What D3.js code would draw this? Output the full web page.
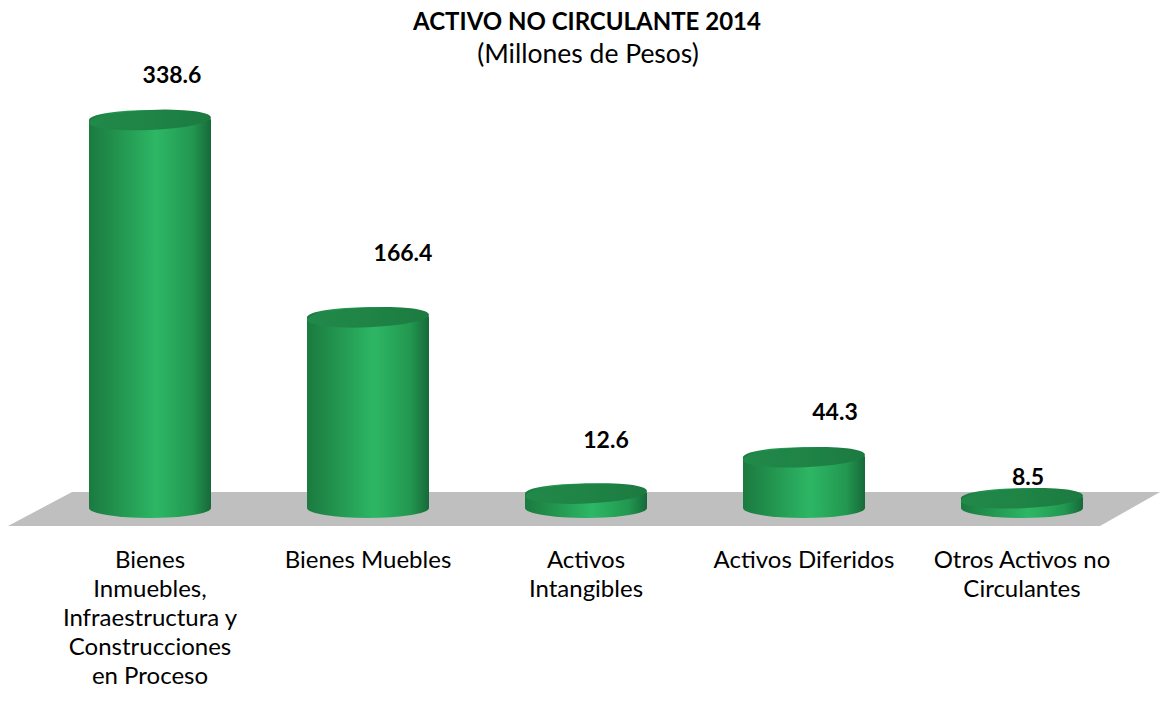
<!DOCTYPE html>
<html>
<head>
<meta charset="utf-8">
<script src="https://cdn.jsdelivr.net/npm/d3@7"></script>
<style>
  body { margin: 0; background: #fff; }
  svg { display: block; font-family: Lato, "Open Sans", sans-serif; }
</style>
</head>
<body>
<svg id="chart"></svg>
<script>
// ----- data -----
const categories = [
    ['Bienes', 'Inmuebles,', 'Infraestructura y', 'Construcciones', 'en Proceso'],
    ['Bienes Muebles'],
    ['Activos', 'Intangibles'],
    ['Activos Diferidos'],
    ['Otros Activos no', 'Circulantes']
];
const values = [338.6, 166.4, 12.6, 44.3, 8.5];
const valueLabels = ['338.6', '166.4', '12.6', '44.3', '8.5'];

// manual nudges for the value labels (Excel placed them by hand)
const labelNudgeX = [22, 35, 20, 31, 6];
const labelNudgeY = [-45, -64, -54, -45, -21];

const width = 1162, height = 702;
const rx = 61, ry = 10;

const svg = d3.select('#chart')
    .attr('width', width)
    .attr('height', height);

const defs = svg.append('defs');

// side gradient of the cylinders
const side = defs.append('linearGradient').attr('id', 'side')
    .attr('x1', 0).attr('x2', 1).attr('y1', 0).attr('y2', 0);
[[0, '#1b7a40'], [0.2, '#21904c'], [0.55, '#2db765'], [0.85, '#22974f'], [1, '#17693a']]
    .forEach(([o, c]) => side.append('stop').attr('offset', o).attr('stop-color', c));

const cap = defs.append('linearGradient').attr('id', 'cap')
    .attr('x1', 0).attr('x2', 1).attr('y1', 0).attr('y2', 0);
[[0, '#21894a'], [0.5, '#1f8446'], [1, '#1c7a40']]
    .forEach(([o, c]) => cap.append('stop').attr('offset', o).attr('stop-color', c));

// ----- scales -----
const x = d3.scalePoint()
    .domain(d3.range(values.length))
    .range([41, 1131])
    .padding(0.5);

const y = d3.scaleLinear()
    .domain([0, 350])
    .range([508, 508 - 350 * 1.146]);

// ----- floor -----
const x0 = x.range()[0], x1 = x.range()[1], base = y(0);
svg.append('path')
    .attr('d', `M ${x0 + 31} ${base - 16} L ${x1 + 29} ${base - 16} L ${x1 - 31} ${base + 18} L ${x0 - 33} ${base + 18} Z`)
    .attr('fill', '#bfbfbf');

// ----- cylinders -----
const bars = svg.append('g').selectAll('g.bar')
    .data(values)
    .join('g')
    .attr('class', 'bar');

bars.append('path')
    .attr('fill', 'url(#side)')
    .attr('d', (d, i) => {
        const cx = x(i), top = y(d);
        return `M ${cx - rx} ${top} L ${cx - rx} ${base}
                A ${rx} ${ry} 0 0 0 ${cx + rx} ${base}
                L ${cx + rx} ${top}
                A ${rx} ${ry} 0 0 0 ${cx - rx} ${top} Z`;
    });

bars.append('ellipse')
    .attr('cx', (d, i) => x(i))
    .attr('cy', d => y(d))
    .attr('rx', rx)
    .attr('ry', ry)
    .attr('transform', (d, i) => `rotate(-2.5 ${x(i)} ${y(d)})`)
    .attr('fill', 'url(#cap)');

// ----- value labels -----
svg.append('g').selectAll('text')
    .data(values)
    .join('text')
    .attr('x', (d, i) => x(i) + labelNudgeX[i])
    .attr('y', (d, i) => y(d) + labelNudgeY[i])
    .attr('dy', '0.35em')
    .attr('text-anchor', 'middle')
    .attr('font-weight', 'bold')
    .attr('font-size', 23)
    .attr('fill', '#000')
    .text((d, i) => valueLabels[i]);

// ----- category labels -----
const cat = svg.append('g').selectAll('text')
    .data(categories)
    .join('text')
    .attr('text-anchor', 'middle')
    .attr('font-size', 24)
    .attr('fill', '#000');

cat.selectAll('tspan')
    .data((d, i) => d.map(line => ({ line, i })))
    .join('tspan')
    .attr('x', d => x(d.i))
    .attr('y', (d, j) => 568 + j * 29)
    .text(d => d.line);

// ----- title -----
svg.append('text')
    .attr('x', 587)
    .attr('y', 30)
    .attr('text-anchor', 'middle')
    .attr('font-weight', 'bold')
    .attr('font-size', 24)
    .text('ACTIVO NO CIRCULANTE 2014');

svg.append('text')
    .attr('x', 588)
    .attr('y', 63)
    .attr('text-anchor', 'middle')
    .attr('font-size', 26.5)
    .text('(Millones de Pesos)');
</script>
</body>
</html>
